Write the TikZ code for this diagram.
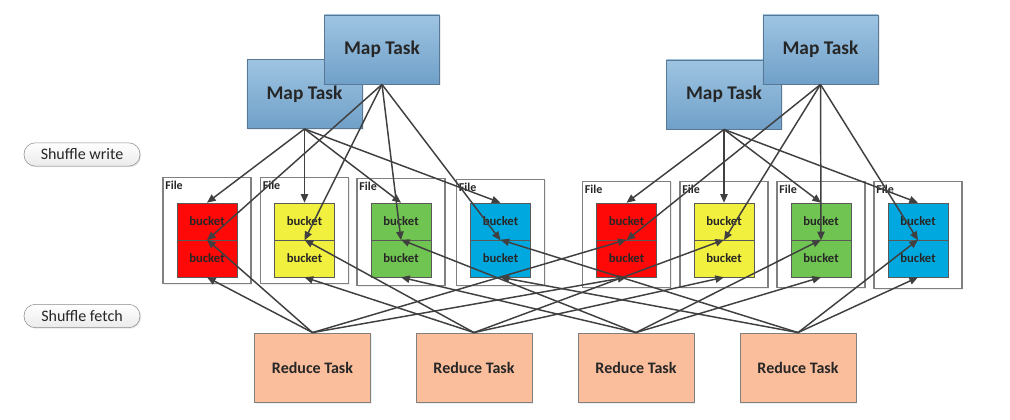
\documentclass[tikz,border=0pt]{standalone}
\usepackage{fontspec}
\setmainfont{Carlito}
\usetikzlibrary{shadows,arrows.meta}

\definecolor{maptop}{RGB}{158,196,226}
\definecolor{mapbot}{RGB}{112,160,200}
\definecolor{mapedge}{RGB}{88,120,150}
\definecolor{redfill}{RGB}{250,190,156}
\definecolor{bred}{RGB}{255,8,8}
\definecolor{byel}{RGB}{242,240,62}
\definecolor{bgrn}{RGB}{112,196,82}
\definecolor{bblu}{RGB}{0,168,224}
\definecolor{linecol}{RGB}{64,64,64}

\tikzset{
  maptask/.style={draw=mapedge, top color=maptop, bottom color=mapbot,
    minimum width=86.5pt, minimum height=52pt, inner sep=0pt,
    font=\fontsize{14.5}{16}\selectfont\bfseries, text=black!85,
    drop shadow={shadow xshift=1pt, shadow yshift=-1pt, opacity=0.15}},
  reducetask/.style={draw=black!50, fill=redfill,
    minimum width=87pt, minimum height=52pt, inner sep=0pt,
    font=\fontsize{12}{14}\selectfont\bfseries, text=black!85,
    drop shadow={shadow xshift=1pt, shadow yshift=-1pt, opacity=0.15}},
  filebox/.style={draw=black!50, fill=white, line width=0.9pt,
    minimum width=66pt, minimum height=80pt, inner sep=0pt,
    drop shadow={shadow xshift=1pt, shadow yshift=-1pt, opacity=0.15}},
  filelabel/.style={font=\fontsize{9}{10}\selectfont\bfseries, text=black!85, inner sep=1pt},
  bucketbox/.style={draw=black!65, minimum width=45pt, minimum height=27.75pt,
    inner sep=0pt, font=\fontsize{9.5}{12}\selectfont\bfseries, text=black!85},
  phase/.style={draw=black!45, rounded corners=8.5pt, top color=white, bottom color=black!8,
    minimum width=87pt, minimum height=17.5pt, inner sep=0pt,
    font=\fontsize{12}{14}\selectfont, text=black!85,
    drop shadow={shadow xshift=0.8pt, shadow yshift=-0.8pt, opacity=0.2}},
  conn/.style={->, >={Triangle[length=6.5pt,width=5.5pt]}, draw=linecol, fill=linecol, line width=1.1pt}
}

\begin{document}
\begin{tikzpicture}[x=0.75pt, y=-0.75pt]
    \useasboundingbox (0,0) rectangle (1010,420);

    % Phase labels on the left
    \node[phase] (write) at (82,154.5) {Shuffle write};
    \node[phase] (fetch) at (82,316) {Shuffle fetch};

    % Files, each holding two buckets
    \foreach \i/\x/\y/\c in {1/207/230.5/bred, 2/304.5/230.5/byel, 3/401/232/bgrn, 4/500.5/232.5/bblu,
                             5/626.5/234.5/bred, 6/724/234.5/byel, 7/821/234.5/bgrn, 8/918/235/bblu} {
      \node[filebox] (file\i) at (\x,\y) {};
      \node[filelabel, anchor=north west] (flab\i) at ([xshift=1pt,yshift=-2pt]file\i.north west) {File};
      \node[bucketbox, fill=\c] (top\i) at (\x,221.5) {bucket};
      \node[bucketbox, fill=\c] (bot\i) at (\x,258.5) {bucket};
    }

    % Map tasks (back one first, front one on top)
    \node[maptask] (mapA) at (304.5,94) {Map Task};
    \node[maptask] (mapB) at (382,49.5) {Map Task};
    \node[maptask] (mapC) at (724,94.5) {Map Task};
    \node[maptask] (mapD) at (820.5,49.5) {Map Task};

    % Reduce tasks
    \node[reducetask] (red1) at (312.5,367.5) {Reduce Task};
    \node[reducetask] (red2) at (474,367.5) {Reduce Task};
    \node[reducetask] (red3) at (636,367.5) {Reduce Task};
    \node[reducetask] (red4) at (798,367.5) {Reduce Task};

    % Shuffle write: every map task writes one bucket into each file
    \foreach \i in {1,...,4} {
      \draw[conn] (mapA.south) -- (top\i.north);
      \draw[conn] (mapB.south) -- (top\i.south);
    }
    \foreach \i in {5,...,8} {
      \draw[conn] (mapC.south) -- (top\i.north);
      \draw[conn] (mapD.south) -- (top\i.south);
    }

    % Shuffle fetch: reduce task k reads file k and file k+4
    \foreach \r in {1,...,4} {
      \pgfmathtruncatemacro\j{\r+4}
      \draw[conn] (red\r.north) -- (bot\r.south);
      \draw[conn] (red\r.north) -- (bot\r.north);
      \draw[conn] (red\r.north) -- (bot\j.south);
      \draw[conn] (red\r.north) -- (bot\j.north);
    }
\end{tikzpicture}
\end{document}
